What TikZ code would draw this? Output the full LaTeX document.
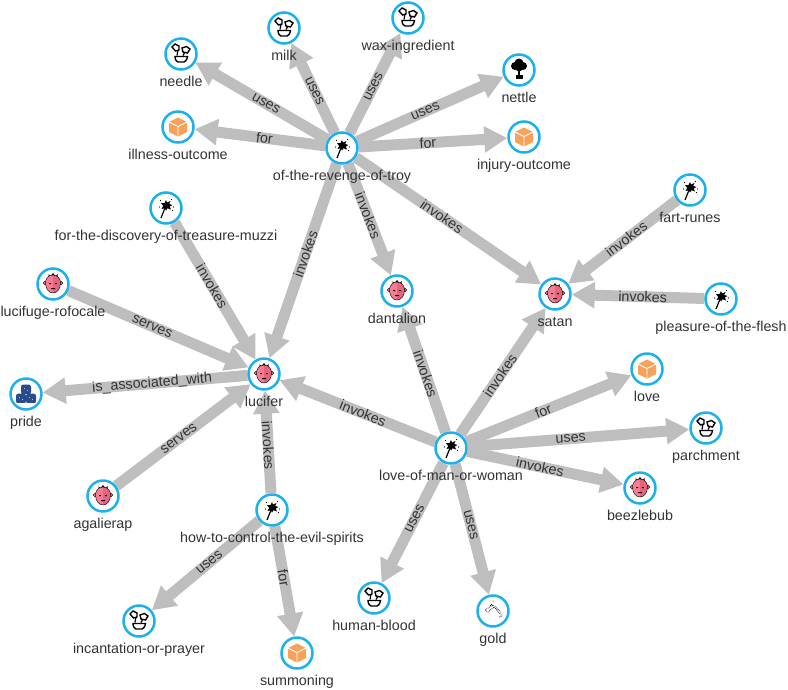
\documentclass[tikz,border=0pt]{standalone}
\usepackage{fontspec}
\setmainfont{Liberation Sans}
\usetikzlibrary{arrows.meta,backgrounds}
\definecolor{ringc}{HTML}{1CB1EE}
\definecolor{edgec}{HTML}{BEBEBE}
\definecolor{textc}{HTML}{333333}
\definecolor{facel}{HTML}{F97C96}
\definecolor{facer}{HTML}{E5647E}
\definecolor{boxc}{HTML}{F6A25A}
\definecolor{cubec}{HTML}{2A4B8B}
\tikzset{
  x=1pt,y=-1pt,
  ent/.style={circle,draw=ringc,fill=white,line width=2.5pt,minimum size=31pt,inner sep=0pt},
  entlab/.style={font=\fontsize{14.3}{16}\selectfont,text=textc,text height=10pt,text depth=3pt,inner sep=0pt},
  rel/.style={draw=edgec,line width=11pt,-{Triangle[width=25pt,length=23pt]}},
  rellab/.style={font=\fontsize{14.3}{16}\selectfont,text=textc,sloped,inner sep=0pt,pos=.465},
  pics/wand/.style={code={
    \draw[black,line width=1.2pt] (-5,10) -- (-1,0);
    \fill[black] (0,-8) -- (1,-5.5) -- (4.5,-7) -- (3.2,-4) -- (6.5,-3) -- (3.8,-1.5) -- (5,1.5) -- (1.5,0.3) -- (0,2.5) -- (-1.2,.3) -- (-4.5,1) -- (-2.8,-2) -- (-5,-5) -- (-1.5,-5) -- cycle;
    \foreach \p in {(-5.5,-7.5),(5.5,-8.5),(7.5,-1),(-6.5,-1),(6.5,2.5)} \fill[black] \p circle (.55);
  }},
  pics/plants/.style={code={
    \draw[black,line width=1.2pt] (-4,1.5) -- (-3,-4);
    \draw[black,line width=1.2pt] (2,1.5) -- (4,-2);
    \draw[black,line width=1.4pt,fill=white] (-9,-7) -- (-6,-10) -- (-2,-8) -- (-2,-4) -- (-5.5,-3) -- cycle;
    \draw[black,line width=1.4pt,fill=white] (1,-6) -- (5.5,-7.5) -- (9,-5) -- (6.5,-1) -- (2,-2) -- cycle;
    \draw[black,line width=1.4pt,fill=white] (-6,2.5) -- (6.5,2.5) .. controls (6,6) and (4,8) .. (3,8) -- (-3,8) .. controls (-4,8) and (-6,6) .. (-6,2.5) -- cycle;
  }},
  pics/demon/.style={code={
    \fill[black] (-4.5,-6) -- (-4.5,-10) -- (-2.5,-8) -- (0,-11) -- (2.5,-8) -- (4.5,-10) -- (4.5,-6) -- cycle;
    \fill[facel] (-8,-1) circle (1.8);
    \fill[facer] (8,-1) circle (1.8);
    \draw[black,line width=.4pt] (-8,-1) circle (1.8) (8,-1) circle (1.8);
    \fill[facel] (0,-9) .. controls (-5,-9) and (-7.5,-5) .. (-7.5,-1) .. controls (-7.5,5) and (-4,9) .. (0,9) -- cycle;
    \fill[facer] (0,-9) .. controls (5,-9) and (7.5,-5) .. (7.5,-1) .. controls (7.5,5) and (4,9) .. (0,9) -- cycle;
    \draw[black,line width=.4pt] (0,-9) .. controls (-5,-9) and (-7.5,-5) .. (-7.5,-1) .. controls (-7.5,5) and (-4,9) .. (0,9) .. controls (4,9) and (7.5,5) .. (7.5,-1) .. controls (7.5,-5) and (5,-9) .. (0,-9) -- cycle;
    \fill[black] (-3.8,-.8) rectangle (-1.8,.2) (1.8,-.8) rectangle (3.8,.2) (-2,4) rectangle (2,5.2);
  }},
  pics/cargo/.style={code={
    \fill[boxc] (0,-9.5) -- (9,-5) -- (9,5) -- (0,9.5) -- (-9,5) -- (-9,-5) -- cycle;
    \draw[white,line width=.9pt] (-9,-5) -- (0,-.5) -- (9,-5) (0,-.5) -- (0,9.5);
  }},
  pics/cubes/.style={code={
    \foreach \cx/\cy in {0/-4.5,-5/4.5,5/4.5} {
      \fill[cubec,rounded corners=2.5pt] (\cx-5,\cy-5) rectangle (\cx+5,\cy+5);
      \draw[white,line width=.4pt] (\cx-5,\cy+5) -- (\cx+5,\cy+5);
      \fill[white] (\cx-1.5,\cy-1) circle (.45) (\cx+1.5,\cy+1) circle (.45);
    }
  }},
  pics/shrub/.style={code={
    \fill[black] (-4,-4) circle (4) (4,-4) circle (4) (0,-7) circle (4.5) (0,-2) circle (3.5);
    \draw[black,line width=1.5pt] (0,0) -- (0,6);
    \fill[black] (-3.5,5) rectangle (3.5,9);
  }},
  pics/ore/.style={code={
    \draw[black,line width=.7pt,densely dotted] (-8,-1) -- (0,-6) -- (5,-2) (-8,-1) -- (-5,1) -- (1,-4);
    \draw[black,line width=.7pt] (-3,-5) -- (-1,-7);
    \draw[black,line width=.7pt,densely dotted] (1,-4) -- (9,5) (5,-2) -- (8,2) (6,6) -- (9,5);
    \fill[black] (0,-10) circle (.5);
  }},
}
\newcommand{\ent}[5]{\node[ent,label={[entlab,label distance=5.5pt]below:#4}] (#1) at (#2,#3) {}; \pic at (#1) {#5};}
\begin{document}
\begin{tikzpicture}
\useasboundingbox (0,0) rectangle (788,689);
\ent{wax}{408}{18}{wax-ingredient}{plants}
\ent{milk}{284}{28}{milk}{plants}
\ent{needle}{181}{54}{needle}{plants}
\ent{nettle}{519}{70}{nettle}{shrub}
\ent{illness}{178}{127}{illness-outcome}{cargo}
\ent{injury}{524}{137}{injury-outcome}{cargo}
\ent{troy}{342}{148}{of-the-revenge-of-troy}{wand}
\ent{fart}{690}{190}{fart-runes}{wand}
\ent{discovery}{166}{208}{for-the-discovery-of-treasure-muzzi}{wand}
\ent{lucifuge}{53}{284}{lucifuge-rofocale}{demon}
\ent{dantalion}{397}{291}{dantalion}{demon}
\ent{satan}{555}{294}{satan}{demon}
\ent{pleasure}{721}{299}{pleasure-of-the-flesh}{wand}
\ent{love}{647}{369}{love}{cargo}
\ent{lucifer}{264}{374}{lucifer}{demon}
\ent{pride}{26}{394}{pride}{cubes}
\ent{parchment}{706}{428}{parchment}{plants}
\ent{loveman}{451}{448}{love-of-man-or-woman}{wand}
\ent{beezlebub}{640}{488}{beezlebub}{demon}
\ent{agalierap}{103}{496}{agalierap}{demon}
\ent{howto}{272}{510}{how-to-control-the-evil-spirits}{wand}
\ent{incantation}{139}{621}{incantation-or-prayer}{plants}
\ent{humanblood}{374}{598}{human-blood}{plants}
\ent{gold}{493}{611}{gold}{ore}
\ent{summoning}{297}{653}{summoning}{cargo}
\begin{scope}[on background layer]
\draw[rel] (troy) -- node[rellab]{uses} (needle);
\draw[rel] (troy) -- node[rellab]{uses} (milk);
\draw[rel] (troy) -- node[rellab]{uses} (wax);
\draw[rel] (troy) -- node[rellab]{uses} (nettle);
\draw[rel] (troy) -- node[rellab]{for} (illness);
\draw[rel] (troy) -- node[rellab]{for} (injury);
\draw[rel] (troy) -- node[rellab]{invokes} (dantalion);
\draw[rel] (troy) -- node[rellab]{invokes} (satan);
\draw[rel] (troy) -- node[rellab]{invokes} (lucifer);
\draw[rel] (discovery) -- node[rellab]{invokes} (lucifer);
\draw[rel] (lucifuge) -- node[rellab]{serves} (lucifer);
\draw[rel] (lucifer) -- node[rellab]{is\_associated\_with} (pride);
\draw[rel] (agalierap) -- node[rellab]{serves} (lucifer);
\draw[rel] (howto) -- node[rellab]{invokes} (lucifer);
\draw[rel] (howto) -- node[rellab]{uses} (incantation);
\draw[rel] (howto) -- node[rellab]{for} (summoning);
\draw[rel] (loveman) -- node[rellab]{invokes} (lucifer);
\draw[rel] (loveman) -- node[rellab]{invokes} (dantalion);
\draw[rel] (loveman) -- node[rellab]{invokes} (satan);
\draw[rel] (loveman) -- node[rellab]{for} (love);
\draw[rel] (loveman) -- node[rellab]{uses} (parchment);
\draw[rel] (loveman) -- node[rellab]{invokes} (beezlebub);
\draw[rel] (loveman) -- node[rellab]{uses} (humanblood);
\draw[rel] (loveman) -- node[rellab]{uses} (gold);
\draw[rel] (fart) -- node[rellab]{invokes} (satan);
\draw[rel] (pleasure) -- node[rellab]{invokes} (satan);
\end{scope}
\end{tikzpicture}
\end{document}
